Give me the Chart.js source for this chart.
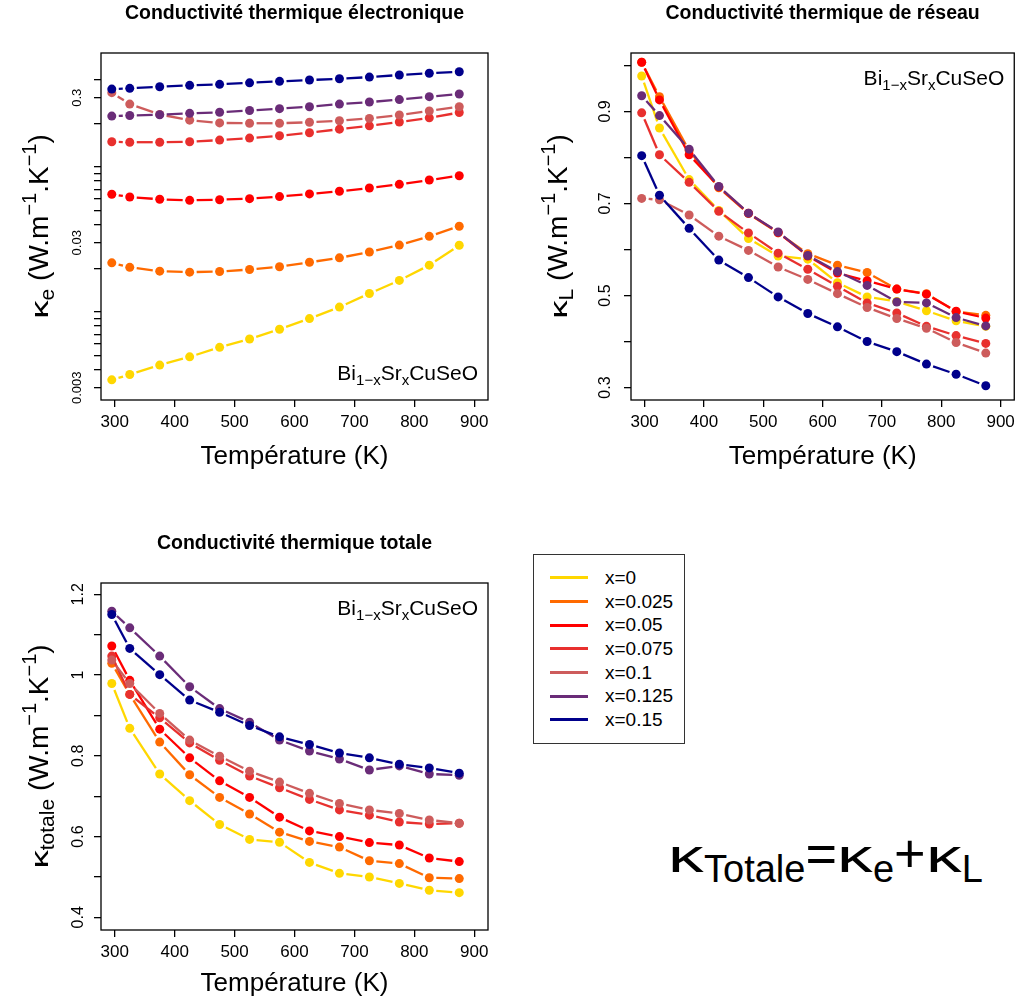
<!DOCTYPE html>
<html lang="fr">
<head>
<meta charset="UTF-8">
<title>Conductivité thermique Bi1-xSrxCuSeO</title>
<script src="https://cdn.jsdelivr.net/npm/chart.js"></script>
<style>
  body { margin: 0; background: #fff; font-family: "Liberation Sans", Arial, sans-serif; }
  canvas { position: absolute; }
  #legende { position: absolute; left: 533px; top: 554px; width: 152px; height: 190px;
             border: 1.5px solid #333; box-sizing: border-box; padding-top: 11px; }
  .ligne { height: 23.7px; display: flex; align-items: center; }
  .trait { width: 38px; height: 3px; margin-left: 16px; margin-right: 17px; }
  .ligne span { font-size: 19px; }
  #formule { position: absolute; left: 668px; top: 828px; font-size: 54px; line-height: 50px; white-space: nowrap; }
  #formule sub { font-size: 38px; vertical-align: -10px; line-height: 0; }
  #formule .k { display: inline-block; font-size: 46px; transform: scaleX(1.55); transform-origin: 0 100%; margin-right: 13px; }
</style>
</head>
<body>
  <canvas id="graphKe" width="510" height="480" style="left:0;top:0"></canvas>
  <canvas id="graphKl" width="500" height="480" style="left:520px;top:0"></canvas>
  <canvas id="graphKt" width="510" height="477" style="left:0;top:530px"></canvas>
  <div id="legende"></div>
  <div id="formule"><span class="k">κ</span><sub>Totale</sub>=<span class="k">κ</span><sub>e</sub>+<span class="k">κ</span><sub>L</sub></div>
<script>
  // températures (K)
  const temperatures = [295, 325, 375, 425, 475, 525, 575, 625, 675, 725, 775, 825, 875];
  const compositions = ['x=0', 'x=0.025', 'x=0.05', 'x=0.075', 'x=0.1', 'x=0.125', 'x=0.15'];
  const couleurs = ['#FFD700', '#FF6A00', '#FF0000', '#E8302E', '#CD5C5C', '#6A2C78', '#00008B'];

  // conductivité électronique
  const ke0   = [0.0034, 0.0037, 0.0043, 0.0049, 0.0057, 0.0065, 0.0076, 0.0090, 0.0108, 0.0134, 0.0165, 0.0210, 0.0288];
  const ke025 = [0.0218, 0.0203, 0.0191, 0.0188, 0.0190, 0.0196, 0.0205, 0.0220, 0.0236, 0.0259, 0.0289, 0.0332, 0.0390];
  const ke05  = [0.0648, 0.0620, 0.0598, 0.0588, 0.0594, 0.0604, 0.0624, 0.0651, 0.0679, 0.0715, 0.0758, 0.0812, 0.0869];
  const ke075 = [0.149, 0.148, 0.148, 0.149, 0.153, 0.158, 0.164, 0.172, 0.182, 0.192, 0.204, 0.218, 0.237];
  const ke1   = [0.325, 0.271, 0.230, 0.210, 0.201, 0.200, 0.200, 0.203, 0.208, 0.216, 0.228, 0.243, 0.260];
  const ke125 = [0.224, 0.226, 0.229, 0.234, 0.238, 0.245, 0.252, 0.260, 0.271, 0.280, 0.291, 0.305, 0.318];
  const ke15  = [0.344, 0.348, 0.357, 0.365, 0.371, 0.380, 0.389, 0.397, 0.405, 0.416, 0.430, 0.442, 0.453];

  // conductivité de réseau
  const kl0   = [0.977, 0.864, 0.752, 0.685, 0.624, 0.586, 0.579, 0.528, 0.497, 0.487, 0.467, 0.445, 0.433];
  const kl025 = [1.007, 0.932, 0.815, 0.734, 0.678, 0.636, 0.591, 0.566, 0.550, 0.514, 0.504, 0.465, 0.457];
  const kl05  = [1.007, 0.925, 0.806, 0.736, 0.679, 0.637, 0.586, 0.549, 0.532, 0.514, 0.503, 0.466, 0.451];
  const kl075 = [0.897, 0.806, 0.746, 0.683, 0.636, 0.592, 0.557, 0.520, 0.484, 0.462, 0.433, 0.413, 0.396];
  const kl1   = [0.711, 0.708, 0.675, 0.629, 0.598, 0.562, 0.535, 0.504, 0.474, 0.450, 0.429, 0.398, 0.375];
  const kl125 = [0.934, 0.891, 0.818, 0.737, 0.679, 0.638, 0.587, 0.552, 0.522, 0.486, 0.484, 0.452, 0.434];
  const kl15  = [0.804, 0.718, 0.646, 0.577, 0.539, 0.497, 0.461, 0.432, 0.400, 0.378, 0.351, 0.329, 0.304];

  // conductivité totale
  const kt0   = [0.979, 0.868, 0.755, 0.689, 0.630, 0.593, 0.586, 0.536, 0.509, 0.500, 0.484, 0.467, 0.461];
  const kt025 = [1.029, 0.952, 0.834, 0.753, 0.697, 0.656, 0.611, 0.588, 0.574, 0.540, 0.533, 0.498, 0.496];
  const kt05  = [1.072, 0.987, 0.866, 0.795, 0.738, 0.697, 0.648, 0.614, 0.600, 0.585, 0.579, 0.547, 0.538];
  const kt075 = [1.047, 0.952, 0.894, 0.832, 0.789, 0.750, 0.721, 0.692, 0.666, 0.653, 0.636, 0.631, 0.633];
  const kt1   = [1.037, 0.979, 0.905, 0.839, 0.799, 0.762, 0.735, 0.707, 0.682, 0.666, 0.657, 0.641, 0.633];
  const kt125 = [1.158, 1.117, 1.047, 0.971, 0.917, 0.883, 0.839, 0.812, 0.792, 0.765, 0.775, 0.755, 0.752];
  const kt15  = [1.150, 1.066, 1.001, 0.938, 0.908, 0.875, 0.847, 0.828, 0.807, 0.795, 0.779, 0.770, 0.757];

  // graduations
  const graduationsT = [300, 400, 500, 600, 700, 800, 900];
  const graduationsKe = [0.003, 0.004, 0.005, 0.006, 0.007, 0.008, 0.009,
                         0.01, 0.02, 0.03, 0.04, 0.05, 0.06, 0.07, 0.08, 0.09,
                         0.1, 0.2, 0.3, 0.4];
  const etiquettesKe = ['0.003', '0.03', '0.3'];
  const graduationsKl = [0.3, 0.4, 0.5, 0.6, 0.7, 0.8, 0.9, 1.0];
  const etiquettesKl = ['0.3', '0.5', '0.7', '0.9'];
  const graduationsKt = [0.4, 0.5, 0.6, 0.7, 0.8, 0.9, 1.0, 1.1, 1.2];
  const etiquettesKt = ['0.4', '0.6', '0.8', '1', '1.2'];

  const POLICE = '"Liberation Sans", Arial, sans-serif';
  Chart.defaults.font.family = POLICE;
  Chart.defaults.color = '#000';
  const ECART = 7; // espace autour des points (type="b")

  // texte avec indices / exposants
  function texteRiche(ctx, morceaux, x, y, align, vertical) {
    ctx.save();
    ctx.translate(x, y);
    if (vertical) ctx.rotate(-Math.PI / 2);
    let total = 0;
    morceaux.forEach(m => {
      ctx.font = m.taille + 'px ' + POLICE;
      m.w = ctx.measureText(m.t).width * (m.sx || 1);
      total += m.w;
    });
    let cx = align === 'center' ? -total / 2 : (align === 'right' ? -total : 0);
    ctx.fillStyle = '#000';
    ctx.textAlign = 'left';
    ctx.textBaseline = 'alphabetic';
    morceaux.forEach(m => {
      ctx.font = m.taille + 'px ' + POLICE;
      ctx.save();
      ctx.translate(cx, m.dy || 0);
      ctx.scale(m.sx || 1, 1);
      ctx.fillText(m.t, 0, 0);
      ctx.restore();
      cx += m.w;
    });
    ctx.restore();
  }

  function titreY(indice) {
    return [
      {t: 'κ', taille: 23, sx: 1.6}, {t: indice, taille: 21, dy: 6},
      {t: ' (W.m', taille: 28}, {t: '−1', taille: 20, dy: -12},
      {t: '.K', taille: 28}, {t: '−1', taille: 20, dy: -12}, {t: ')', taille: 28}
    ];
  }
  const formuleBi = [
    {t: 'Bi', taille: 21}, {t: '1−x', taille: 15, dy: 5}, {t: 'Sr', taille: 21},
    {t: 'x', taille: 15, dy: 5}, {t: 'CuSeO', taille: 21}
  ];

  const cadre = {
    id: 'cadre',
    afterDraw(chart, args, o) {
      const {ctx, chartArea: a} = chart;
      ctx.save();
      ctx.strokeStyle = '#000';
      ctx.lineWidth = 1.3;
      ctx.strokeRect(a.left, a.top, a.right - a.left, a.bottom - a.top);
      ctx.restore();
      texteRiche(ctx, titreY(o.indice), o.titreX, (a.top + a.bottom) / 2, 'center', true);
      texteRiche(ctx, formuleBi, a.right - 10, o.annotHaut ? a.top + 31.6 : a.bottom - 20, 'right', false);
    }
  };

  function etiquette(v, liste) {
    const s = liste.find(l => Math.abs(parseFloat(l) - v) < 1e-9);
    return s || '';
  }

  const grille = {drawOnChartArea: false, color: '#000', lineWidth: 1.3, tickLength: 7};

  function echelleX(hauteur) {
    return {
      type: 'linear', min: 277, max: 923,
      afterBuildTicks: s => { s.ticks = graduationsT.map(v => ({value: v})); },
      afterFit: s => { s.height = hauteur; },
      grid: grille,
      border: {display: false},
      ticks: {font: {size: 17}, padding: 5, maxRotation: 0, autoSkip: false},
      title: {display: true, text: 'Température (K)', font: {size: 26}, padding: {top: 0, bottom: 7.4}}
    };
  }

  function echelleY(type, min, max, grads, etiqs, largeur, taille, pad) {
    return {
      type: type, min: min, max: max,
      afterBuildTicks: s => { s.ticks = grads.map(v => ({value: v})); },
      afterFit: s => { s.width = largeur; },
      grid: grille,
      border: {display: false},
      ticks: {font: {size: taille}, minRotation: 90, maxRotation: 90, crossAlign: 'center',
              padding: pad, autoSkip: false, callback: v => etiquette(v, etiqs)}
    };
  }

  // tiret unique entre deux points, avec un espace de chaque côté
  function tiret(c) {
    const L = Math.hypot(c.p1.x - c.p0.x, c.p1.y - c.p0.y);
    return [0, ECART, Math.max(L - 2 * ECART, 0.5), L + ECART + (c.p0DataIndex % 2) * 0.01];
  }

  function panneau(id, titre, series, echY, droite, indice, titreX, annotHaut) {
    const datasets = series.map((vals, i) => ({
      label: compositions[i],
      data: temperatures.map((t, j) => ({x: t, y: vals[j]})),
      borderColor: couleurs[i],
      backgroundColor: couleurs[i],
      pointBackgroundColor: couleurs[i],
      pointBorderWidth: 0,
      pointRadius: 4.5,
      borderWidth: 2.3,
      borderCapStyle: 'butt',
      order: -i,
      segment: {borderDash: tiret}
    }));
    return new Chart(document.getElementById(id), {
      type: 'line',
      data: {datasets},
      options: {
        responsive: false,
        animation: false,
        events: [],
        layout: {padding: {left: 0, right: droite, top: 0, bottom: 0}},
        plugins: {
          legend: {display: false},
          tooltip: {enabled: false},
          title: {display: true, text: titre, fullSize: false, font: {size: 19.5, weight: 'bold'},
                  padding: {top: 2.3, bottom: 27.3}},
          cadre: {indice: indice, titreX: titreX, annotHaut: annotHaut}
        },
        scales: {x: echelleX(id === 'graphKt' ? 77 : 80), y: echY}
      },
      plugins: [cadre]
    });
  }

  panneau('graphKe', 'Conductivité thermique électronique',
    [ke0, ke025, ke05, ke075, ke1, ke125, ke15],
    echelleY('logarithmic', 0.00247, 0.61, graduationsKe, etiquettesKe, 101, 13, 0),
    22, 'e', 48, false);

  panneau('graphKl', 'Conductivité thermique de réseau',
    [kl0, kl025, kl05, kl075, kl1, kl125, kl15],
    echelleY('linear', 0.273, 1.027, graduationsKl, etiquettesKl, 111, 16, 7),
    2, 'L', 47, true);

  panneau('graphKt', 'Conductivité thermique totale',
    [kt0, kt025, kt05, kt075, kt1, kt125, kt15],
    echelleY('linear', 0.3686, 1.228, graduationsKt, etiquettesKt, 101, 16, 4),
    22, 'totale', 48, true);

  // légende commune
  const legende = document.getElementById('legende');
  compositions.forEach((c, i) => {
    const ligne = document.createElement('div');
    ligne.className = 'ligne';
    ligne.innerHTML = '<div class="trait" style="background:' + couleurs[i] + '"></div><span>' + c + '</span>';
    legende.appendChild(ligne);
  });
</script>
</body>
</html>
